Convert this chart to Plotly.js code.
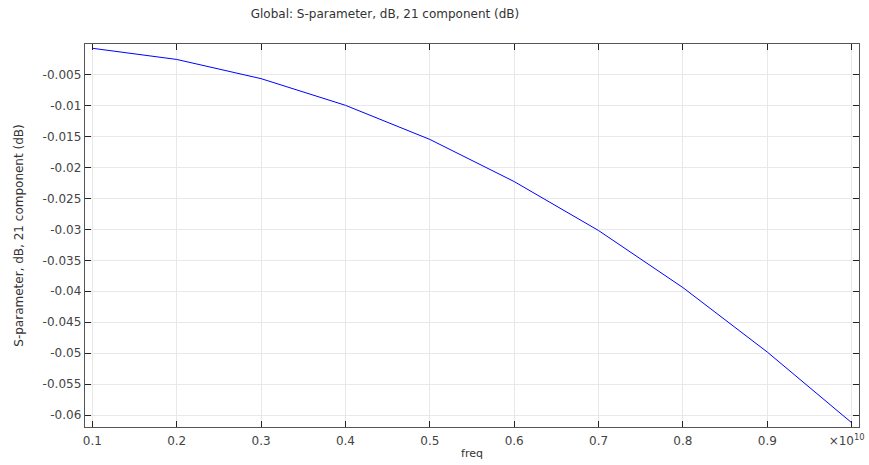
<!DOCTYPE html>
<html>
<head>
<meta charset="utf-8">
<script src="https://cdn.plot.ly/plotly-3.0.1.min.js"></script>
<style>html,body{margin:0;padding:0;background:#fff;}#chart{width:869px;height:465px;}</style>
</head>
<body>
<div id="chart"></div>
<script>
var freq = [1e9, 2e9, 3e9, 4e9, 5e9, 6e9, 7e9, 8e9, 9e9, 1e10];
var s21dB = [-0.0008, -0.0026, -0.0057, -0.0100, -0.0155, -0.0223, -0.0302, -0.0394, -0.0498, -0.0612];
var xTickVals = [1e9, 2e9, 3e9, 4e9, 5e9, 6e9, 7e9, 8e9, 9e9];
var xTickText = ["0.1", "0.2", "0.3", "0.4", "0.5", "0.6", "0.7", "0.8", "0.9"];
var xLastTick = [1e10];
var xScaleLabel = ["×10<sup>10</sup>"];
var yTickVals = [-0.005, -0.01, -0.015, -0.02, -0.025, -0.03, -0.035, -0.04, -0.045, -0.05, -0.055, -0.06];
var yTickText = ["-0.005", "-0.01", "-0.015", "-0.02", "-0.025", "-0.03", "-0.035", "-0.04", "-0.045", "-0.05", "-0.055", "-0.06"];

var font = "DejaVu Sans, sans-serif";
var xRange = [0.913e9, 1.0087e10];
var trace = {
  x: freq, y: s21dB, type: "scatter", mode: "lines",
  line: {color: "#0000ff", width: 1}, hoverinfo: "none"
};
var axisCommon = {
  showline: true, linecolor: "#555", linewidth: 1.3, mirror: "ticks",
  ticks: "inside", ticklen: 6, tickcolor: "#222", tickwidth: 1,
  showgrid: true, gridcolor: "#e8e8e8", gridwidth: 1, zeroline: false,
  tickfont: {family: font, size: 12, color: "#444"}
};
var layout = {
  width: 869, height: 465,
  margin: {l: 85, r: 10, t: 44, b: 38},
  paper_bgcolor: "#fff", plot_bgcolor: "#fff",
  showlegend: false,
  title: {text: "Global: S-parameter, dB, 21 component (dB)", font: {family: font, size: 12, color: "#333"},
          x: 0.3876, xanchor: "center", xref: "paper", y: 0.97, yanchor: "middle", yref: "container"},
  xaxis: Object.assign({}, axisCommon, {
    range: xRange, tickmode: "array", tickvals: xTickVals, ticktext: xTickText,
    ticklabelstandoff: 2,
    title: {text: "freq", font: {family: font, size: 11, color: "#333"}, standoff: 2}
  }),
  xaxis2: Object.assign({}, axisCommon, {
    overlaying: "x", side: "bottom", range: xRange, tickmode: "array", tickvals: xLastTick,
    ticktext: xScaleLabel, ticklabelstandoff: 2, ticklabelshift: -5, ticklabeloverflow: "allow"
  }),
  yaxis: Object.assign({}, axisCommon, {
    range: [-0.06189, -0.00011], tickmode: "array", tickvals: yTickVals, ticktext: yTickText,
    title: {text: "S-parameter, dB, 21 component (dB)", font: {family: font, size: 12, color: "#333"}, standoff: 16}
  })
};
var helper = {x: xRange, y: [null, null], xaxis: "x2", yaxis: "y", type: "scatter", mode: "lines", hoverinfo: "none", showlegend: false};
Plotly.newPlot("chart", [trace, helper], layout, {staticPlot: true, displayModeBar: false});
</script>
</body>
</html>
